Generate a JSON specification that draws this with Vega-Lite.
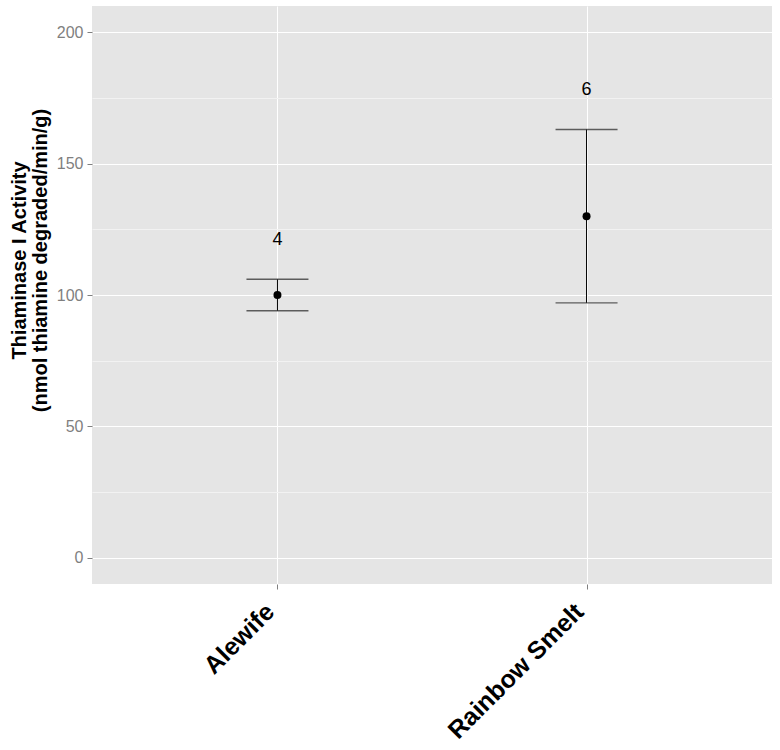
{
  "$schema": "https://vega.github.io/schema/vega-lite/v6.json",
  "autosize": {"type": "none"},
  "width": 680,
  "height": 578,
  "padding": {"left": 92, "top": 6, "right": 8, "bottom": 166},
  "background": "white",
  "config": {
    "font": "Liberation Sans",
    "view": {"fill": "#E5E5E5", "stroke": null},
    "axis": {"domain": false, "tickColor": "#7F7F7F", "tickSize": 5, "gridColor": "#FFFFFF", "gridWidth": 1}
  },
  "data": {
    "values": [
      {"fish": "Alewife", "mean": 100, "lower": 94, "upper": 106, "n": "4"},
      {"fish": "Rainbow Smelt", "mean": 130, "lower": 97, "upper": 163, "n": "6"}
    ]
  },
  "encoding": {
    "x": {
      "field": "fish", "type": "nominal",
      "scale": {"type": "point", "padding": 0.6},
      "axis": {
        "title": null, "grid": true, "labelAngle": -45, "labelAlign": "right", "labelBaseline": "alphabetic",
        "labelFont": "Liberation Sans", "labelFontWeight": "bold", "labelFontSize": 25, "labelColor": "#000000",
        "labelPadding": 24, "labelOffset": -2
      }
    }
  },
  "layer": [
    {
      "mark": {"type": "rule", "color": "#000000", "strokeWidth": 1},
      "encoding": {
        "y": {
          "field": "lower", "type": "quantitative",
          "scale": {"domain": [-10, 210], "nice": false, "zero": false},
          "axis": {
            "values": [0, 25, 50, 75, 100, 125, 150, 175, 200],
            "labelExpr": "datum.value % 50 === 0 ? datum.label : ''",
            "gridColor": {"condition": {"test": "datum.value % 50 === 0", "value": "#FFFFFF"}, "value": "#F2F2F2"},
            "tickOpacity": {"condition": {"test": "datum.value % 50 === 0", "value": 1}, "value": 0},
            "labelFontSize": 16, "labelColor": "#7F7F7F", "labelPadding": 4,
            "title": ["Thiaminase I Activity", "(nmol thiamine degraded/min/g)"],
            "titleFontSize": 20, "titleFontWeight": "bold", "titleColor": "#000000",
            "titleLineHeight": 21, "titleAngle": -90, "titleBaseline": "alphabetic",
            "titleAlign": "center", "titleX": -67, "titleY": 254
          }
        },
        "y2": {"field": "upper"}
      }
    },
    {
      "mark": {"type": "tick", "color": "#222222", "size": 62, "thickness": 1.3},
      "encoding": {"y": {"field": "lower", "type": "quantitative"}}
    },
    {
      "mark": {"type": "tick", "color": "#222222", "size": 62, "thickness": 1.3},
      "encoding": {"y": {"field": "upper", "type": "quantitative"}}
    },
    {
      "mark": {"type": "point", "shape": "circle", "filled": true, "color": "#000000", "size": 64, "opacity": 1},
      "encoding": {"y": {"field": "mean", "type": "quantitative"}}
    },
    {
      "mark": {"type": "text", "fontSize": 18, "color": "#000000", "baseline": "middle", "dy": -39.5},
      "encoding": {
        "y": {"field": "upper", "type": "quantitative"},
        "text": {"field": "n"}
      }
    }
  ]
}
